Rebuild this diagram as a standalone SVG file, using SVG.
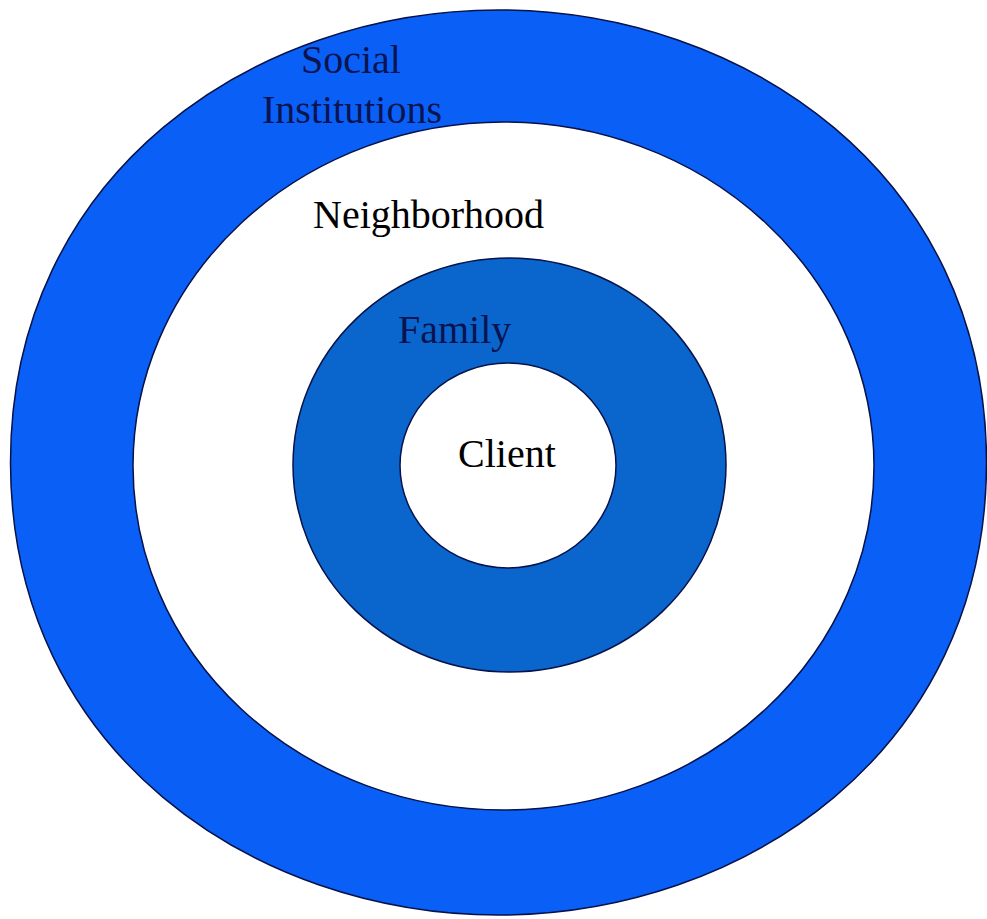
<svg xmlns="http://www.w3.org/2000/svg" width="987" height="919" viewBox="0 0 987 919">
  <style>
    .ring { stroke: #06124a; stroke-width: 1.5; }
    .label { font-family: "Liberation Serif", "Times New Roman", serif; font-size: 40px; }
    .on-blue { fill: #0a1450; }
    .on-white { fill: #000000; }
  </style>
  <rect x="0" y="0" width="987" height="919" fill="#ffffff"/>

  <!-- Outer ring: social institutions -->
  <g id="social-institutions">
    <path class="ring" fill="#0a60f6" d="M986.5,462.5 C986.5,172.9 742.5,10 498.5,10 C254.5,10 10.5,172.9 10.5,462.5 C10.5,752.1 254.5,915 498.5,915 C742.5,915 986.5,752.1 986.5,462.5 Z"/>
    <text class="label on-blue" x="301" y="73">Social</text>
    <text class="label on-blue" x="262" y="123">Institutions</text>
  </g>

  <!-- Neighborhood -->
  <g id="neighborhood">
    <ellipse class="ring" fill="#ffffff" cx="503.5" cy="466" rx="370.5" ry="344"/>
    <text class="label on-white" x="313" y="228">Neighborhood</text>
  </g>

  <!-- Family -->
  <g id="family">
    <ellipse class="ring" fill="#0a66cc" cx="509.5" cy="465" rx="216.5" ry="207"/>
    <text class="label on-blue" x="398" y="343">Family</text>
  </g>

  <!-- Client at the centre -->
  <g id="client">
    <ellipse class="ring" fill="#ffffff" cx="508" cy="465.5" rx="108" ry="102.5"/>
    <text class="label on-white" x="458" y="467">Client</text>
  </g>

  <g id="connectors"/>
</svg>
